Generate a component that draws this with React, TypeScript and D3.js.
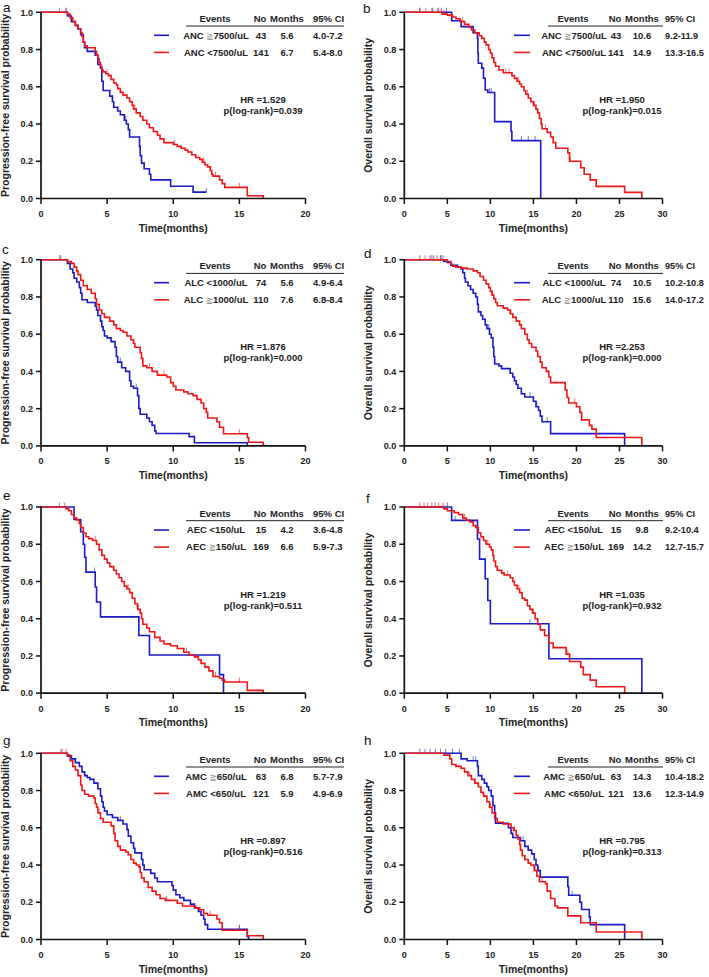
import React from 'react';
import * as d3 from 'd3';

type Pt = [number, number];

// ---------- Panel a: PFS by ANC ----------
const aBlue: Pt[] = [[2.0,0.98],[2.3,0.95],[2.6,0.93],[2.8,0.91],[3.0,0.88],[3.2,0.84],[3.3,0.81],[3.5,0.79],[4.1,0.77],[4.3,0.72],[4.5,0.70],[4.6,0.63],[4.7,0.58],[5.2,0.55],[5.4,0.52],[5.5,0.49],[5.8,0.47],[6.0,0.45],[6.3,0.42],[6.45,0.40],[6.6,0.37],[6.7,0.33],[7.45,0.28],[7.5,0.23],[7.6,0.19],[7.8,0.16],[8.2,0.13],[8.3,0.10],[9.8,0.066],[11.5,0.034]];
const aBlueC = [1.9, 6.4, 12.5];
const aRed: Pt[] = [[2.0,0.99],[2.2,0.97],[2.4,0.95],[2.6,0.93],[2.8,0.91],[3.0,0.89],[3.1,0.87],[3.2,0.84],[3.3,0.82],[3.5,0.81],[4.1,0.79],[4.2,0.77],[4.3,0.75],[4.4,0.73],[4.5,0.71],[4.6,0.69],[4.7,0.68],[4.9,0.67],[5.1,0.66],[5.3,0.64],[5.5,0.62],[5.7,0.61],[5.8,0.59],[6.0,0.57],[6.2,0.555],[6.5,0.54],[6.7,0.52],[6.9,0.50],[7.0,0.48],[7.2,0.46],[7.5,0.44],[7.7,0.42],[8.0,0.40],[8.2,0.38],[8.5,0.36],[8.8,0.34],[9.0,0.32],[9.3,0.30],[10.0,0.29],[10.3,0.28],[10.6,0.27],[10.9,0.26],[11.1,0.25],[11.4,0.235],[11.7,0.22],[12.0,0.21],[12.2,0.195],[12.4,0.18],[12.6,0.17],[12.8,0.15],[12.9,0.13],[13.0,0.12],[13.5,0.10],[13.7,0.08],[13.9,0.06],[15.6,0.015],[16.8,0]];
const aRedC = [1.4, 1.9, 4.2, 5.0, 7.1, 10.1, 12.3, 13.2, 15.0];

// ---------- Panel b: OS by ANC ----------
const bBlue: Pt[] = [[5.5,0.955],[6.6,0.923],[8.0,0.89],[8.5,0.86],[8.55,0.78],[8.6,0.726],[9.0,0.70],[9.2,0.646],[9.4,0.583],[9.7,0.569],[10.5,0.413],[12.4,0.36],[12.5,0.311],[15.85,0]];
const bBlueC = [1.8, 3.3, 3.9, 4.3, 4.9, 5.5, 9.9, 10.1, 13.6, 14.4, 15.2];
const bRed: Pt[] = [[4.4,0.99],[5.0,0.985],[5.6,0.975],[6.0,0.965],[6.5,0.95],[7.0,0.935],[7.5,0.92],[7.8,0.905],[8.2,0.89],[8.7,0.875],[9.0,0.86],[9.3,0.84],[9.5,0.825],[9.8,0.80],[10.0,0.78],[10.2,0.755],[10.4,0.73],[10.6,0.71],[11.0,0.69],[11.5,0.675],[12.5,0.66],[12.8,0.645],[13.1,0.63],[13.4,0.615],[13.6,0.60],[13.9,0.58],[14.1,0.56],[14.4,0.54],[14.7,0.52],[15.0,0.50],[15.3,0.48],[15.5,0.46],[15.7,0.43],[15.9,0.40],[16.0,0.375],[16.6,0.355],[17.0,0.33],[17.3,0.30],[17.6,0.27],[19.0,0.245],[19.2,0.20],[20.5,0.165],[20.9,0.13],[21.6,0.10],[22.3,0.065],[25.6,0.033],[27.6,0]];
const bRedC = [1.8, 2.5, 3.2, 4.0, 4.6, 6.8, 11.8, 12.2, 13.3, 14.3, 15.1, 16.4, 19.3];

// ---------- Panel c: PFS by ALC ----------
const cBlue: Pt[] = [[2.0,0.98],[2.2,0.95],[2.4,0.93],[2.5,0.90],[2.7,0.88],[2.9,0.85],[3.0,0.82],[3.1,0.785],[3.5,0.77],[4.1,0.75],[4.2,0.73],[4.3,0.70],[4.5,0.67],[4.6,0.64],[4.7,0.62],[4.8,0.59],[5.0,0.58],[5.3,0.56],[5.6,0.53],[5.7,0.48],[5.8,0.45],[6.1,0.42],[6.4,0.40],[6.7,0.35],[6.8,0.32],[7.0,0.31],[7.3,0.27],[7.4,0.20],[7.5,0.17],[8.0,0.15],[8.2,0.13],[8.4,0.11],[8.6,0.08],[8.7,0.067],[11.2,0.05],[11.6,0.017],[15.6,0]];
const cBlueC = [1.5, 6.0, 7.2];
const cRed: Pt[] = [[2.0,0.99],[2.3,0.98],[2.5,0.96],[2.7,0.94],[2.8,0.92],[3.0,0.89],[3.2,0.86],[3.5,0.84],[3.8,0.82],[4.1,0.79],[4.2,0.76],[4.4,0.73],[4.6,0.71],[4.8,0.69],[5.2,0.67],[5.5,0.65],[5.7,0.63],[6.0,0.62],[6.2,0.61],[6.5,0.59],[6.8,0.57],[7.0,0.55],[7.1,0.53],[7.5,0.50],[7.6,0.47],[7.7,0.43],[8.0,0.42],[8.4,0.40],[8.8,0.38],[9.5,0.37],[9.8,0.34],[10.0,0.32],[10.2,0.30],[10.8,0.29],[11.1,0.28],[11.5,0.27],[11.8,0.25],[12.1,0.23],[12.3,0.20],[12.5,0.18],[12.6,0.15],[13.3,0.13],[13.5,0.10],[13.8,0.065],[15.6,0.045],[15.7,0.02],[16.8,0]];
const cRedC = [1.4, 4.1, 8.2, 9.3, 12.6, 15.0];

// ---------- Panel d: OS by ALC ----------
const dBlue: Pt[] = [[4.6,0.99],[5.0,0.985],[5.4,0.97],[6.2,0.96],[6.6,0.95],[6.8,0.93],[7.0,0.90],[7.1,0.88],[7.4,0.86],[7.7,0.84],[8.0,0.82],[8.3,0.80],[8.5,0.76],[8.6,0.72],[8.9,0.70],[9.1,0.68],[9.4,0.65],[9.6,0.63],[9.9,0.60],[10.1,0.58],[10.3,0.53],[10.4,0.48],[10.5,0.44],[11.0,0.43],[11.3,0.415],[12.3,0.39],[12.6,0.37],[12.8,0.35],[13.0,0.33],[13.2,0.31],[13.6,0.28],[14.0,0.263],[15.0,0.24],[15.3,0.21],[15.6,0.19],[15.8,0.16],[16.0,0.13],[17.0,0.066],[25.6,0]];
const dBlueC = [1.8, 3.0, 3.4, 4.2, 4.5, 9.8, 14.6, 15.4, 16.6];
const dRed: Pt[] = [[5.0,0.99],[5.4,0.975],[5.6,0.965],[6.0,0.96],[6.6,0.955],[7.3,0.95],[8.0,0.94],[8.5,0.93],[8.8,0.91],[9.2,0.89],[9.5,0.87],[9.8,0.85],[10.0,0.83],[10.2,0.81],[10.4,0.79],[10.6,0.77],[10.8,0.753],[11.5,0.74],[12.0,0.73],[12.3,0.71],[12.6,0.69],[13.0,0.67],[13.4,0.65],[13.6,0.63],[14.0,0.60],[14.3,0.57],[14.5,0.55],[14.8,0.53],[15.3,0.51],[15.5,0.48],[15.8,0.45],[16.0,0.42],[16.5,0.40],[16.8,0.37],[17.0,0.34],[18.7,0.30],[18.9,0.26],[19.1,0.23],[20.0,0.21],[20.4,0.18],[20.6,0.14],[21.5,0.11],[21.8,0.09],[22.3,0.045],[27.6,0]];
const dRedC = [2.4, 3.2, 3.8, 4.3, 10.2, 12.4, 19.8];

// ---------- Panel e: PFS by AEC ----------
const eBlue: Pt[] = [[2.5,0.933],[3.0,0.867],[3.2,0.80],[3.3,0.73],[3.4,0.65],[4.1,0.57],[4.2,0.49],[4.5,0.41],[7.4,0.31],[8.2,0.205],[13.5,0.10],[13.8,0]];
const eBlueC = [4.05];
const eRed: Pt[] = [[1.9,0.99],[2.1,0.98],[2.3,0.96],[2.5,0.94],[2.7,0.93],[2.9,0.91],[3.0,0.89],[3.2,0.86],[3.4,0.84],[3.6,0.83],[3.9,0.82],[4.2,0.80],[4.4,0.77],[4.6,0.74],[4.8,0.72],[5.0,0.70],[5.2,0.68],[5.5,0.66],[5.7,0.64],[5.9,0.62],[6.1,0.60],[6.3,0.575],[6.5,0.56],[6.7,0.54],[6.9,0.51],[7.1,0.48],[7.3,0.45],[7.5,0.43],[7.6,0.40],[7.7,0.37],[8.0,0.35],[8.2,0.33],[8.6,0.30],[9.0,0.28],[9.3,0.265],[9.8,0.255],[10.3,0.24],[10.8,0.22],[11.2,0.205],[11.6,0.195],[11.9,0.18],[12.1,0.16],[12.4,0.14],[12.7,0.12],[13.0,0.09],[13.5,0.08],[13.7,0.07],[13.9,0.06],[15.6,0.015],[16.8,0]];
const eRedC = [1.4, 1.8, 4.1, 6.6, 7.4, 11.0, 13.2, 15.0];

// ---------- Panel f: OS by AEC ----------
const fBlue: Pt[] = [[5.5,0.928],[8.5,0.828],[8.75,0.72],[9.4,0.615],[9.7,0.498],[10.0,0.373],[16.8,0.185],[27.6,0]];
const fBlueC = [5.0, 5.9, 14.6];
const fRed: Pt[] = [[4.6,0.99],[5.0,0.98],[5.8,0.97],[6.3,0.96],[6.8,0.94],[7.2,0.93],[7.6,0.92],[8.0,0.90],[8.3,0.89],[8.6,0.86],[8.9,0.84],[9.2,0.82],[9.5,0.80],[9.9,0.785],[10.1,0.77],[10.3,0.74],[10.4,0.71],[10.6,0.68],[10.8,0.66],[11.3,0.645],[11.6,0.635],[12.3,0.62],[12.6,0.60],[12.8,0.58],[13.1,0.56],[13.4,0.54],[13.7,0.51],[14.0,0.50],[14.3,0.47],[14.6,0.45],[14.9,0.43],[15.2,0.40],[15.5,0.37],[15.8,0.34],[16.3,0.31],[16.8,0.27],[17.3,0.245],[18.8,0.21],[19.2,0.17],[20.5,0.14],[20.8,0.10],[21.6,0.07],[22.3,0.035],[25.6,0]];
const fRedC = [1.8, 2.3, 2.7, 3.2, 3.6, 4.0, 4.5, 7.0, 9.7, 12.0, 13.3, 15.0, 19.0];

// ---------- Panel g: PFS by AMC ----------
const gBlue: Pt[] = [[2.0,0.985],[2.3,0.97],[2.6,0.95],[2.9,0.93],[3.1,0.90],[3.3,0.88],[3.5,0.87],[3.7,0.86],[4.0,0.84],[4.3,0.81],[4.5,0.77],[4.6,0.74],[4.7,0.71],[4.8,0.69],[5.0,0.67],[5.4,0.655],[5.8,0.64],[6.2,0.62],[6.5,0.59],[6.6,0.555],[6.8,0.52],[7.0,0.49],[7.1,0.465],[7.6,0.43],[7.7,0.40],[7.8,0.375],[8.3,0.355],[8.6,0.33],[8.8,0.31],[9.9,0.29],[10.0,0.265],[10.2,0.24],[10.5,0.225],[10.8,0.21],[11.3,0.19],[11.6,0.17],[11.9,0.15],[12.1,0.13],[12.3,0.11],[12.4,0.08],[12.6,0.055],[15.6,0.015],[15.7,0]];
const gBlueC = [1.6, 2.6, 6.0, 15.0];
const gRed: Pt[] = [[2.0,0.99],[2.2,0.96],[2.4,0.93],[2.6,0.91],[2.8,0.88],[3.0,0.83],[3.1,0.80],[3.3,0.78],[3.6,0.77],[4.0,0.76],[4.1,0.73],[4.2,0.71],[4.3,0.68],[4.5,0.65],[4.7,0.63],[5.3,0.61],[5.5,0.57],[5.6,0.53],[5.8,0.50],[6.0,0.48],[6.4,0.47],[6.6,0.455],[6.8,0.43],[7.0,0.41],[7.2,0.40],[7.4,0.39],[7.5,0.36],[7.6,0.33],[7.8,0.31],[8.1,0.28],[8.4,0.26],[8.7,0.24],[9.0,0.22],[9.4,0.21],[10.3,0.195],[10.7,0.18],[11.7,0.17],[12.0,0.16],[12.3,0.14],[12.6,0.13],[13.3,0.11],[13.5,0.09],[13.7,0.05],[15.6,0.02],[16.8,0]];
const gRedC = [1.5, 1.9, 4.4, 9.5, 12.8, 15.0];

// ---------- Panel h: OS by AMC ----------
const hBlue: Pt[] = [[6.6,0.97],[7.3,0.96],[8.5,0.93],[8.6,0.88],[9.0,0.86],[9.3,0.84],[9.6,0.82],[9.8,0.80],[10.1,0.77],[10.3,0.72],[10.5,0.68],[10.6,0.624],[12.1,0.60],[12.4,0.57],[12.6,0.548],[13.5,0.53],[14.0,0.50],[14.4,0.48],[14.8,0.46],[15.1,0.43],[15.3,0.40],[15.5,0.37],[15.8,0.335],[19.0,0.285],[19.1,0.238],[20.4,0.20],[20.6,0.161],[21.5,0.12],[21.6,0.08],[25.6,0]];
const hBlueC = [1.8, 2.4, 3.0, 3.6, 4.2, 4.8, 5.6, 6.4, 8.0, 8.3, 13.8, 15.6, 19.5];
const hRed: Pt[] = [[4.6,0.99],[5.3,0.97],[5.5,0.94],[6.0,0.93],[6.6,0.92],[7.0,0.90],[7.4,0.88],[7.8,0.86],[8.2,0.84],[8.6,0.82],[8.9,0.79],[9.2,0.77],[9.6,0.74],[9.9,0.71],[10.2,0.68],[10.5,0.65],[10.8,0.63],[11.5,0.62],[12.4,0.60],[12.7,0.585],[13.0,0.56],[13.2,0.54],[13.4,0.51],[13.5,0.48],[13.7,0.45],[14.0,0.43],[14.4,0.41],[14.7,0.40],[15.1,0.37],[15.4,0.34],[15.7,0.31],[16.4,0.30],[16.6,0.26],[17.0,0.22],[17.5,0.18],[17.8,0.17],[19.0,0.127],[20.5,0.09],[22.3,0.04],[27.6,0]];
const hRedC = [7.6, 10.0, 12.8, 14.0, 15.2, 16.0];

// ---------- legend tables / texts ----------
const ancLabels = ['ANC \u22677500/uL', 'ANC <7500/uL'];
const alcLabels = ['ALC <1000/uL', 'ALC \u22671000/uL'];
const aecLabels = ['AEC <150/uL', 'AEC \u2267150/uL'];
const amcLabels = ['AMC \u2267650/uL', 'AMC <650/uL'];
const headers = ['Events', 'No', 'Months', '95% CI'];
const yTitles = ['Progression-free survival probability', 'Overall survival probability'];
const xTitle = 'Time(months)';
const yTicks = [0, 0.2, 0.4, 0.6, 0.8, 1.0];
const xTicksPFS = [0, 5, 10, 15, 20];
const xTicksOS = [0, 5, 10, 15, 20, 25, 30];

const panelLetters = ['a', 'b', 'c', 'd', 'e', 'f', 'g', 'h'];
const panelNos = [[43, 141], [43, 141], [74, 110], [74, 110], [15, 169], [15, 169], [63, 121], [63, 121]];
const panelMonths = [['5.6', '6.7'], ['10.6', '14.9'], ['5.6', '7.6'], ['10.5', '15.6'], ['4.2', '6.6'], ['9.8', '14.2'], ['6.8', '5.9'], ['14.3', '13.6']];
const panelCIs = [['4.0-7.2', '5.4-8.0'], ['9.2-11.9', '13.3-16.5'], ['4.9-6.4', '6.8-8.4'], ['10.2-10.8', '14.0-17.2'], ['3.6-4.8', '5.9-7.3'], ['9.2-10.4', '12.7-15.7'], ['5.7-7.9', '4.9-6.9'], ['10.4-18.2', '12.3-14.9']];
const panelHR = ['1.529', '1.950', '1.876', '2.253', '1.219', '1.035', '0.897', '0.795'];
const panelP = ['0.039', '0.015', '0.000', '0.000', '0.511', '0.932', '0.516', '0.313'];
const panelLabels = [ancLabels, ancLabels, alcLabels, alcLabels, aecLabels, aecLabels, amcLabels, amcLabels];
const panelCurves: [Pt[], number[], Pt[], number[]][] = [
  [aBlue, aBlueC, aRed, aRedC], [bBlue, bBlueC, bRed, bRedC],
  [cBlue, cBlueC, cRed, cRedC], [dBlue, dBlueC, dRed, dRedC],
  [eBlue, eBlueC, eRed, eRedC], [fBlue, fBlueC, fRed, fRedC],
  [gBlue, gBlueC, gRed, gRedC], [hBlue, hBlueC, hRed, hRedC],
];

// ---------- layout ----------
const W = 709, Hh = 977;
const ROW_TOPS = [12.3, 259.7, 507, 753.3];
const PH = 186.2;
const COLS = [
  { x0: 41, x1: 305.5, xmax: 20, ticks: xTicksPFS, ev: 215, no: 260, mo: 287, ci: 313, l1: 154, l2: 169, u1: 186, u2: 344, hr: 263, ciFs: 9.5 },
  { x0: 404.3, x1: 662.5, xmax: 30, ticks: xTicksOS, ev: 573, no: 615, mo: 642, ci: 665, l1: 514, l2: 530, u1: 548, u2: 663, hr: 622, ciFs: 9.2 },
];
const LETTER_POS: [number, number][] = [[3, 12], [363, 13], [2, 254], [364, 258], [3, 500], [366, 503], [3, 745], [364, 745]];
const BLUE = '#1a1ac8';
const RED = '#f21616';
const FONT = '"Liberation Sans", Arial, Helvetica, sans-serif';

function buildPts(drops: Pt[], censor: number[]): Pt[] {
  const last = drops[drops.length - 1];
  const end = Math.max(last[0], ...censor);
  const arr: Pt[] = [[0, 1], ...drops];
  if (last[1] > 0 && end > last[0]) arr.push([end, last[1]]);
  return arr;
}
function sAt(drops: Pt[], t: number) {
  let s = 1;
  for (const [tt, ss] of drops) if (tt <= t) s = ss;
  return s;
}

function Label({ text, x, y }: { text: string; x: number; y: number }) {
  const parts = text.split('\u2267');
  if (parts.length === 1) return <text x={x} y={y} textAnchor="middle">{text}</text>;
  return (
    <text x={x} y={y} textAnchor="middle">
      {parts[0]}
      <tspan fill="#8a8a8a" fontWeight="normal" fontFamily='"DejaVu Sans", sans-serif' fontSize="8.5">{'\u2267'}</tspan>
      {parts[1]}
    </text>
  );
}

function Panel({ i }: { i: number }) {
  const col = COLS[i % 2];
  const top = ROW_TOPS[Math.floor(i / 2)];
  const bottom = top + PH;
  const x = d3.scaleLinear().domain([0, col.xmax]).range([col.x0, col.x1]);
  const y = d3.scaleLinear().domain([0, 1]).range([bottom, top]);
  const line = d3.line<Pt>().x(d => x(d[0])).y(d => y(d[1])).curve(d3.curveStepAfter);
  const [bd, bc, rd, rc] = panelCurves[i];
  const curves = [
    { drops: bd, censor: bc, color: BLUE },
    { drops: rd, censor: rc, color: RED },
  ];
  const labels = panelLabels[i];
  const rowsY = [top + 26.3, top + 43.4];
  const [lx, ly] = LETTER_POS[i];
  return (
    <g fontFamily={FONT}>
      <text x={lx} y={ly} fontSize="13.5" fill="#111">{panelLetters[i]}</text>
      {curves.map((c, k) => (
        <g key={k}>
          <path d={line(buildPts(c.drops, c.censor)) || ''} fill="none" stroke={c.color} strokeWidth={1.6} />
          {c.censor.map((t, j) => {
            const yy = y(sAt(c.drops, t));
            return <line key={j} x1={x(t)} x2={x(t)} y1={yy} y2={yy - 4.5} stroke={c.color} strokeWidth={1} opacity={0.6} />;
          })}
        </g>
      ))}
      <line x1={col.x0} x2={col.x0} y1={top - 0.5} y2={bottom + 0.8} stroke="#111" strokeWidth={1.7} />
      <line x1={col.x0} x2={col.x1} y1={bottom} y2={bottom} stroke="#111" strokeWidth={1.7} />
      {yTicks.map(t => (
        <g key={t}>
          <line x1={col.x0 - 5} x2={col.x0} y1={y(t)} y2={y(t)} stroke="#111" strokeWidth={1.5} />
          <text x={col.x0 - 8} y={y(t) + 3.2} textAnchor="end" fontSize="9" fontWeight="bold" fill="#222">{t.toFixed(1)}</text>
        </g>
      ))}
      {col.ticks.map(t => (
        <g key={t}>
          <line x1={x(t)} x2={x(t)} y1={bottom} y2={bottom + 5.5} stroke="#111" strokeWidth={1.5} />
          <text x={x(t)} y={bottom + 18.3} textAnchor="middle" fontSize="9" fontWeight="bold" fill="#222">{t}</text>
        </g>
      ))}
      <text x={(col.x0 + col.x1) / 2} y={bottom + 33} textAnchor="middle" fontSize="10.5" fontWeight="bold" fill="#222">{xTitle}</text>
      <text transform={`translate(${col.x0 - 32.5},${(top + bottom) / 2}) rotate(-90)`} textAnchor="middle" fontSize="10.5" fontWeight="bold" fill="#222">{yTitles[i % 2]}</text>
      <g fontSize="9.5" fontWeight="bold" fill="#222">
        <text x={col.ev} y={top + 9.5} textAnchor="middle">{headers[0]}</text>
        <text x={col.no} y={top + 9.5} textAnchor="middle">{headers[1]}</text>
        <text x={col.mo} y={top + 9.5} textAnchor="middle">{headers[2]}</text>
        <text x={col.ci} y={top + 9.5} fontSize={col.ciFs}>{headers[3]}</text>
        <line x1={col.u1} x2={col.u2} y1={top + 13.7} y2={top + 13.7} stroke="#222" strokeWidth={1} />
        {[0, 1].map(k => (
          <g key={k}>
            <line x1={col.l1} x2={col.l2} y1={rowsY[k] - 3.3} y2={rowsY[k] - 3.3} stroke={k === 0 ? BLUE : RED} strokeWidth={1.6} />
            <Label text={labels[k]} x={col.ev + 1} y={rowsY[k]} />
            <text x={col.no + 1} y={rowsY[k]} textAnchor="middle">{panelNos[i][k]}</text>
            <text x={col.mo} y={rowsY[k]} textAnchor="middle">{panelMonths[i][k]}</text>
            <text x={col.ci} y={rowsY[k]} fontSize={col.ciFs}>{panelCIs[i][k]}</text>
          </g>
        ))}
        <text x={col.hr} y={top + 90.5} textAnchor="middle">{`HR =${panelHR[i]}`}</text>
        <text x={col.hr} y={top + 101.7} textAnchor="middle">{`p(log-rank)=${panelP[i]}`}</text>
      </g>
    </g>
  );
}

export default function App() {
  return (
    <svg width={W} height={Hh} viewBox={`0 0 ${W} ${Hh}`} style={{ position: 'absolute', left: 0, top: 0, background: '#fff' }}>
      <rect width={W} height={Hh} fill="#fff" />
      {panelLetters.map((_, i) => <Panel key={i} i={i} />)}
    </svg>
  );
}
